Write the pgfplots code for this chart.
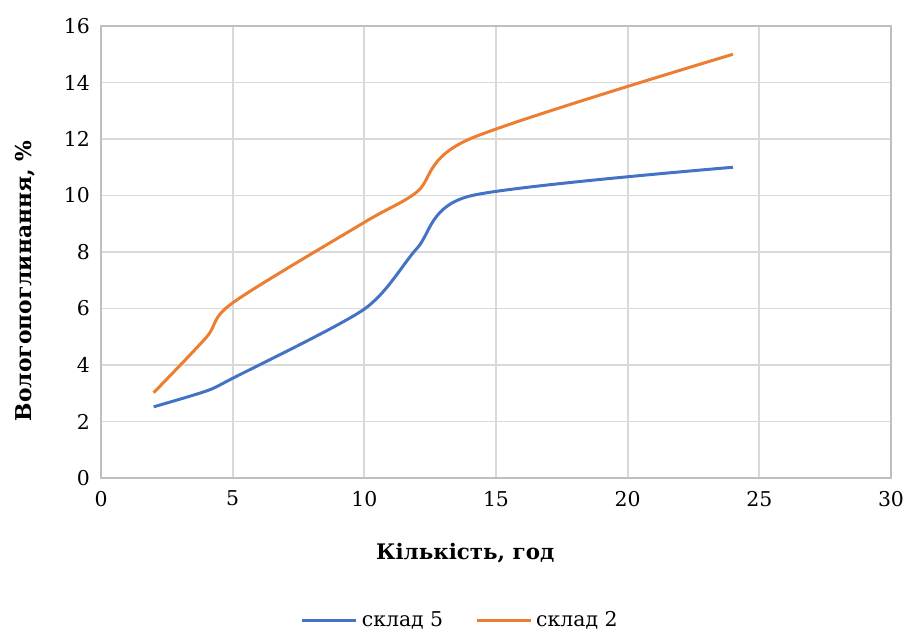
\documentclass[border=0pt]{standalone}
\usepackage{fontspec}
\setmainfont{DejaVu Serif}
\usepackage{pgfplots}
\pgfplotsset{compat=1.18}
\definecolor{cblue}{HTML}{4472C4}
\definecolor{corange}{HTML}{ED7D31}
\definecolor{cgrid}{HTML}{D9D9D9}
\definecolor{caxis}{HTML}{BFBFBF}
\begin{document}
\begin{tikzpicture}
\useasboundingbox (-50.5pt,-78pt) rectangle (402.5pt,239pt);
\begin{axis}[
  at={(0,0)}, anchor=south west,
  scale only axis, width=395pt, height=226pt,
  xmin=0, xmax=30, ymin=0, ymax=16,
  xtick={0,5,...,30}, ytick={0,2,...,16},
  grid=major,
  major grid style={cgrid, line width=0.85pt},
  axis line style={caxis, line width=0.85pt},
  tick style={draw=none},
  /pgf/number format/assume math mode=true,
  ticklabel style={font=\fontsize{10.2}{12}\selectfont, text=black},
  xticklabel style={yshift=-3pt},
  yticklabel style={xshift=-2pt},
  xlabel={\textbf{Кількість, год}},
  ylabel={\textbf{Вологопоглинання, \%}},
  xlabel style={font=\fontsize{10.7}{12}\selectfont, at={(axis description cs:0.461,-0.166)}, anchor=center},
  ylabel style={font=\fontsize{10.9}{12}\selectfont, at={(axis description cs:-0.0962,0.436)}, anchor=center},
  legend style={at={(axis description cs:0.456,-0.316)}, anchor=center, draw=none, legend columns=2, font=\fontsize{10.2}{12}\selectfont, /tikz/every even column/.append style={column sep=14pt}},
  legend image code/.code={\draw[#1, line width=1.5pt] (0pt,0pt) -- (27pt,0pt);},
]
\addplot[cblue, line width=1.5pt, smooth, tension=0.45] coordinates {
 (2,2.52) (4,3.08) (5,3.53) (10,5.98) (12,8.13) (14,9.98) (24,11.0)};
\addlegendentry{склад 5}
\addplot[corange, line width=1.5pt, smooth, tension=0.5] coordinates {
 (2,3.02) (4,4.98) (5,6.2) (10,9.05) (12,10.13) (14,12.0) (24,15.0)};
\addlegendentry{склад 2}
\end{axis}
\end{tikzpicture}
\end{document}
